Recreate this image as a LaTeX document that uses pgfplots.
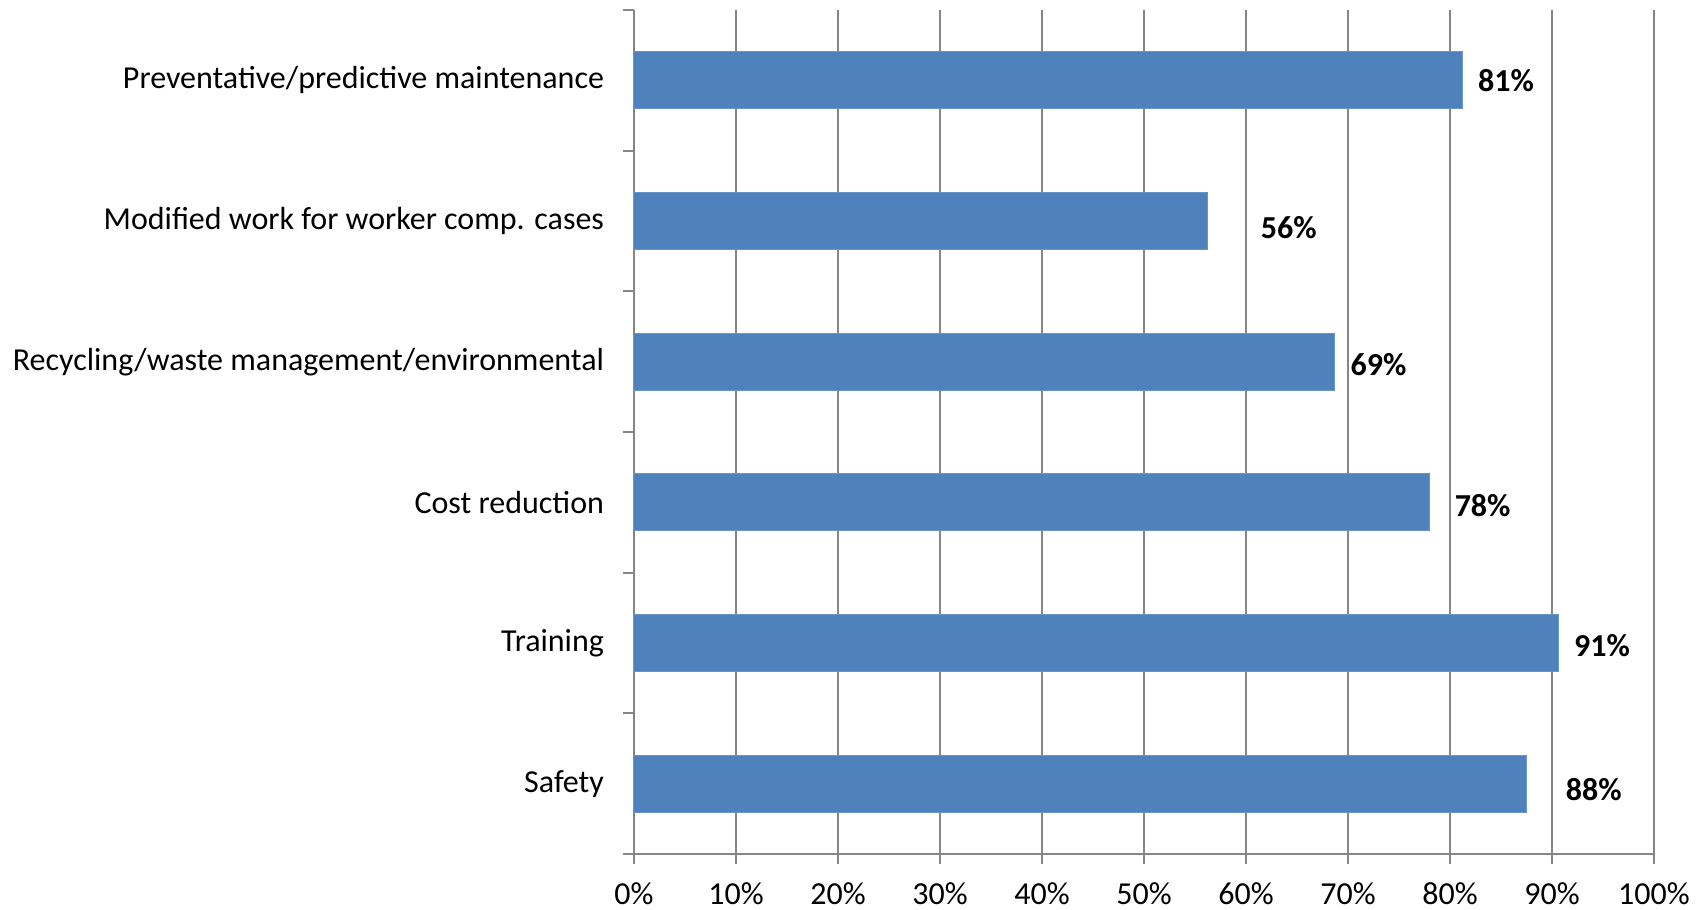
\documentclass[border=0pt]{standalone}
\usepackage{pgfplots}
\pgfplotsset{compat=1.18}
\usepackage{fontspec}
\setmainfont{Carlito}
\definecolor{barblue}{HTML}{4F81BD}
\definecolor{axgray}{HTML}{868686}
\begin{document}
\begin{tikzpicture}
\begin{axis}[
  scale only axis, width=510bp, height=422bp,
  bar width=28.5bp,
  xmin=0, xmax=100, ymin=-0.5, ymax=5.5,
  clip=false,
  axis x line*=bottom, axis y line*=left,
  axis line style={axgray, line width=1bp, -},
  xtick={0,10,...,100},
  xticklabels={0\%,10\%,20\%,30\%,40\%,50\%,60\%,70\%,80\%,90\%,100\%},
  ytick={0,...,5},
  yticklabels={Safety,Training,Cost reduction,Recycling/waste management/environmental,Modified work for worker comp. cases,Preventative/predictive maintenance},
  minor ytick={-0.5,0.5,...,5.5},
  tick align=outside,
  major tick length=5bp,
  minor tick length=5.5bp,
  major x tick style={axgray, line width=1bp},
  major y tick style={draw=none},
  minor y tick style={axgray, line width=1bp},
  xmajorgrids,
  major x grid style={axgray, line width=1bp},
  ticklabel style={font=\fontsize{16bp}{19bp}\selectfont, text=black},
  yticklabel style={xshift=-6.5bp},
  xticklabel style={yshift=-6bp},
]
\addplot[xbar, fill=barblue, draw=barblue!85!white, line width=0.5bp]
  coordinates {(87.5,0) (90.6,1) (78.0,2) (68.7,3) (56.2,4) (81.2,5)};
\addplot[draw=none, mark=none, point meta=explicit symbolic,
  nodes near coords={\pgfplotspointmeta\%},
  nodes near coords style={anchor=center, font=\fontsize{16bp}{19bp}\selectfont\bfseries, text=black}]
  table[meta=label] {
x y label
94.1 -0.04 88
94.9 0.98 91
83.2 1.98 78
73.0 2.98 69
64.2 3.95 56
85.5 5.0 81
};
\end{axis}
\pgfresetboundingbox
\path (-317bp,-28bp) rectangle (536.5bp,427bp);
\end{tikzpicture}
\end{document}
